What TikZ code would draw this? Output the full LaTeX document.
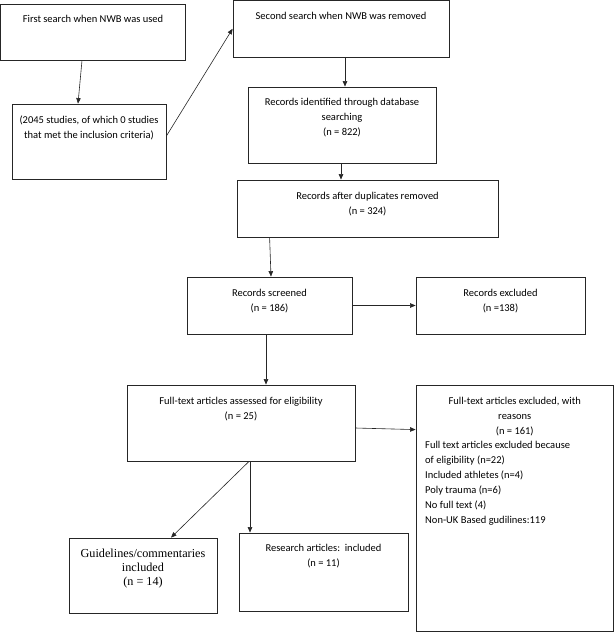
\documentclass[tikz,border=0pt]{standalone}
\usepackage{fontspec}
\setmainfont{Carlito}
\newfontfamily\timesf{Liberation Serif}
\usetikzlibrary{calc,arrows.meta}
\begin{document}
\begin{tikzpicture}[x=1pt,y=-1pt,
  box/.style 2 args={draw=black!85, line width=0.8pt, inner sep=0pt, minimum width=#1, minimum height=#2},
  txt/.style={inner sep=0pt, anchor=north, align=center, text=black, font=\fontsize{10.5}{15}\selectfont},
  arr/.style={draw=black!85, line width=0.6pt, -{Triangle[length=5.5pt,width=4.5pt]}}]
\useasboundingbox (0,0) rectangle (614,632);
% boxes
\node[box={185}{56}] (b1) at (93,32) {};
\node[box={154}{75}] (b2) at (89,141.5) {};
\node[box={216}{56.5}] (b3) at (341,28.75) {};
\node[box={188}{76}] (b4) at (342,125) {};
\node[box={261}{57}] (b5) at (367.5,208.5) {};
\node[box={165}{57}] (b6) at (269.5,305.5) {};
\node[box={169}{57}] (b7) at (500.5,305.5) {};
\node[box={228}{76}] (b8) at (241,423) {};
\node[box={197.5}{246.5}] (b9) at (514.75,508.25) {};
\node[box={148}{75}] (b10) at (143,575.5) {};
\node[box={169}{78}] (b11) at (323.5,572) {};
% texts
\node[txt] (t1) at (93,15.5) {First search when NWB was used};
\node[txt] (t2) at (89,115.5) {(2045 studies, of which 0 studies\\that met the inclusion criteria)};
\node[txt] (t3) at (341,12.5) {Second search when NWB was removed};
\node[txt] (t4) at (342,98.5) {Records identified through database\\searching\\(n = 822)};
\node[txt] (t5) at (367.5,192.5) {Records after duplicates removed\\(n = 324)};
\node[txt] (t6) at (269.5,289.5) {Records screened\\(n = 186)};
\node[txt] (t7) at (500.5,289.5) {Records excluded\\(n =138)};
\node[txt] (t8) at (241,397.5) {Full-text articles assessed for eligibility\\(n = 25)};
\node[txt] (t9) at (514.75,397.5) {Full-text articles excluded, with\\reasons\\(n = 161)};
\node[txt, align=left, anchor=north west] (t9b) at (425,441.5) {Full text articles excluded because\\of eligibility (n=22)\\Included athletes (n=4)\\Poly trauma (n=6)\\No full text (4)\\Non-UK Based gudilines:119};
\node[txt, font=\timesf\fontsize{12.2}{14}\selectfont] (t10) at (143,548.5) {Guidelines/commentaries\\included\\(n = 14)};
\node[txt] (t11) at (323.5,544.5) {Research articles:\ \ included\\(n = 11)};
% connectors
\draw[arr] ($(b1.south)+(-11,0)$) -- ($(b2.north)+(-11,0)$);
\draw[arr] ($(b2.east)+(0,-5.5)$) -- (b3.west);
\draw[arr] ($(b3.south)+(4,0)$) -- ($(b4.north)+(3,0)$);
\draw[arr] ($(b4.south)+(-1,0)$) -- ($(b5.north)+(-26.5,0)$);
\draw[arr] ($(b5.south west)+(33,0)$) -- ($(b6.north)+(1.5,0)$);
\draw[arr] (b6.east) -- (b7.west);
\draw[arr] ($(b6.south)+(-3.5,0)$) -- ($(b8.north)+(25,0)$);
\draw[arr] ($(b8.east)+(0,5)$) -- ($(b9.north west)+(0,45)$);
\draw[arr] ($(b8.south)+(9,0)$) -- ($(b11.north)+(-73.5,0)$);
\draw[arr] ($(b8.south)+(8,0)$) -- ($(b10.north)+(28,0)$);
\end{tikzpicture}
\end{document}
